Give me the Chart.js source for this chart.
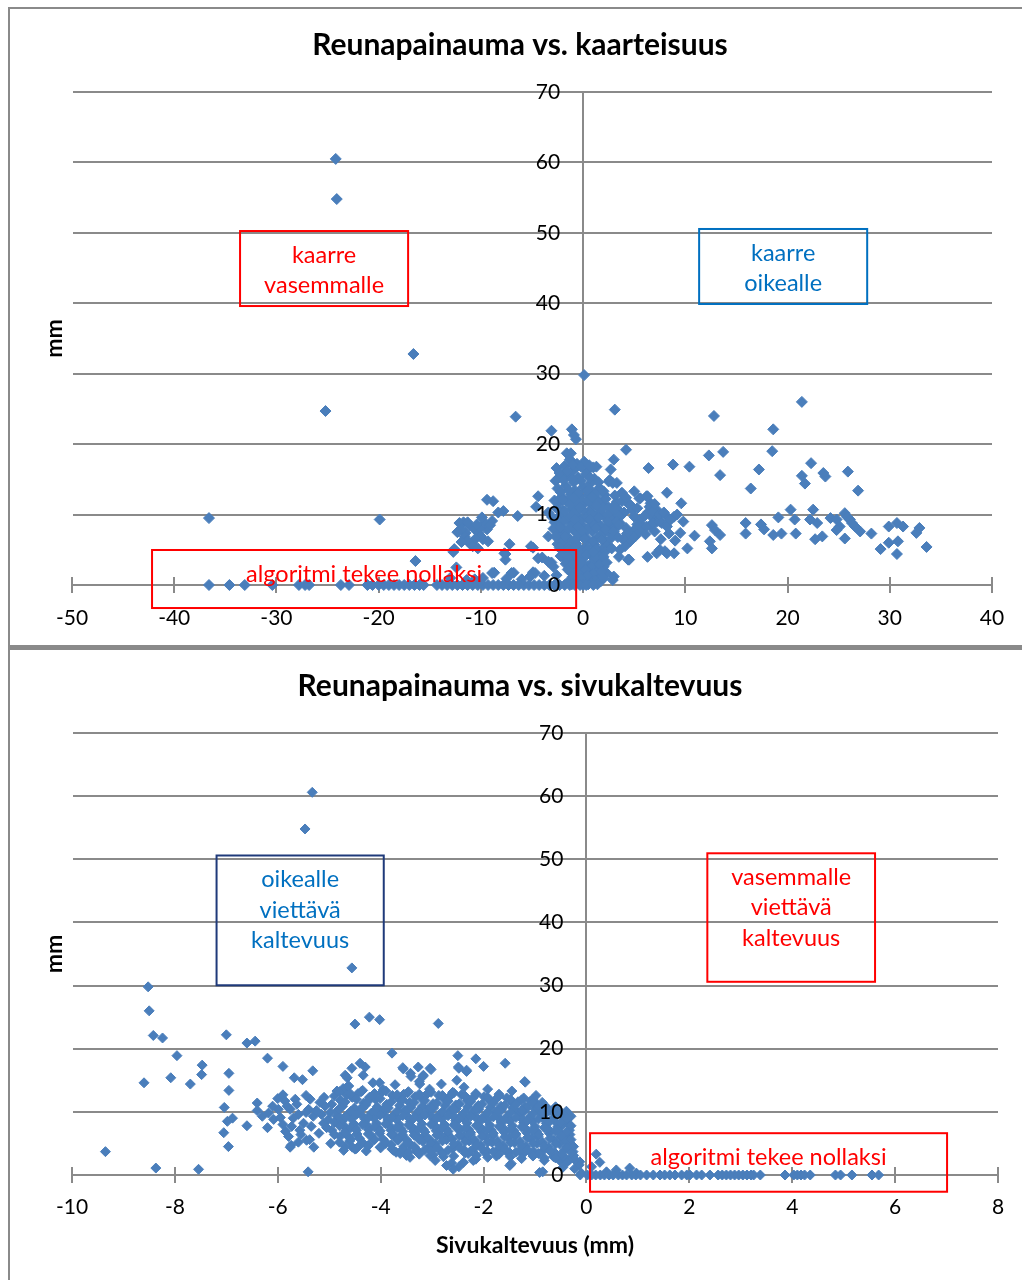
<!DOCTYPE html>
<html>
<head>
<meta charset="utf-8">
<script src="https://cdn.jsdelivr.net/npm/chart.js@4"></script>
<style>
html,body{margin:0;padding:0;background:#fff;}
body{width:1022px;height:1280px;position:relative;overflow:hidden;}
.panel{position:absolute;left:8px;width:1040px;border:2px solid #8a8a8a;box-sizing:border-box;}
#p1{top:7px;height:641px;border-bottom-width:3px;}
#p2{top:648px;height:700px;}
canvas{position:absolute;}
#c1{left:8px;top:8px;}
#c2{left:8px;top:650px;}
</style>
</head>
<body>
<div class="panel" id="p1"></div>
<div class="panel" id="p2"></div>
<canvas id="c1" width="1024" height="637"></canvas>
<canvas id="c2" width="1024" height="630"></canvas>
<script>
// ---------- DATA: chart 1 (x = kaarteisuus, y = reunapainauma mm) ----------
const kaarteisuusHajapisteet = [
  [-24.2,60.5],[-24.1,54.8],[-16.6,32.8],[0.1,29.8],[-25.2,24.7],[-6.6,23.9],[3.1,24.9],[12.8,24.0],[21.4,26.0],[18.6,22.1],
  [-36.6,9.5],[-19.9,9.3],[-16.4,3.4],[-3.1,21.9],[-1.1,22.1],[-0.9,21.3],[-0.7,20.7],
  [18.5,19.0],[13.7,18.9],[12.3,18.4],[4.2,19.2],[3.0,17.8],[2.7,16.4],[1.3,16.8],[6.4,16.6],[8.8,17.1],[10.4,16.8],
  [13.4,15.6],[17.2,16.4],[22.3,17.3],[21.4,15.5],[21.7,14.4],[23.5,15.9],[23.7,15.4],[25.9,16.1],[16.4,13.7],[26.9,13.4],
  [8.2,13.1],[9.6,11.6],[3.8,13.1],[4.5,11.4],[5.6,12.3],[6.3,12.6],[6.6,11.6],[7.2,10.7],
  [8.9,9.7],[9.8,9.0],[9.5,7.4],[10.9,7.0],[10.2,5.2],[7.6,6.5],[6.3,4.0],[7.2,4.5],[8.0,4.8],[8.9,4.5],[3.5,4.0],[4.5,3.6],[3.0,1.2],
  [12.6,8.5],[12.9,7.8],[13.4,7.1],[12.4,6.2],[12.6,5.2],[15.9,8.8],[15.9,7.3],[17.4,8.6],[17.7,7.9],[18.6,7.1],[19.4,7.3],
  [19.1,9.6],[20.3,10.7],[20.7,9.3],[20.8,7.3],[22.5,10.7],[22.2,9.3],[22.9,8.8],[22.7,6.5],[23.4,6.9],
  [24.2,9.5],[24.8,9.3],[25.1,8.3],[25.6,10.2],[25.8,9.7],[26.1,9.3],[26.3,8.8],[26.6,8.3],[25.6,6.6],[24.8,7.8],[27.1,7.6],
  [28.2,7.3],[29.1,5.1],[29.9,6.0],[29.9,8.3],[30.7,8.8],[30.8,6.2],[30.7,4.4],[31.3,8.3],[32.6,7.4],[32.9,8.1],[33.6,5.4],
  [5.0,9.7],[5.6,9.3],[6.4,10.4],[6.7,9.7],[7.2,9.0],[5.9,8.3],[5.0,7.8],[4.6,6.2],[5.1,6.9],[4.1,5.5],[6.6,8.3],[7.7,8.8],
  [3.6,9.7],[3.6,8.8],[4.2,8.1],[4.9,6.9],[5.5,7.6],[6.2,8.3],[6.8,8.8],[7.5,9.0],[8.2,8.3],[7.5,5.0],[8.2,4.5],[4.4,3.6],
  [3.6,5.0],[2.3,1.7],[2.9,0.7],[2.5,14.7],[3.3,14.5],[2.6,14.9],[2.9,14.5],[2.1,12.8],[3.75,13.0],[1.0,16.7],[-1.2,18.7],
  [4.6,11.4],[6.5,11.1],[6.8,10.4],[7.5,10.0],[8.2,9.7],[5.5,12.3],[6.2,12.6],
  [4.0,10.3],[4.8,10.6],[5.3,10.9],[6.0,9.8],[7.0,11.5],[7.9,10.3],[8.5,9.2],[9.2,10.0],[5.3,8.6],[6.1,7.2],[7.0,7.6],
  [8.4,7.3],[9.0,6.3],[4.3,7.3],[3.9,6.5],[3.4,6.8],[3.8,11.9],[4.2,12.4],[5.0,13.3],[3.3,11.8],[3.1,12.7],[3.0,11.2],[3.5,10.6],
  [-9.4,12.1],[-8.8,11.9],[-7.8,10.5],[-6.4,9.8],[-4.4,12.6],[-4.6,11.1],[-3.4,10.3],[-3.0,9.6],[-4.9,5.3],
  [-11.7,8.9],[-11.1,8.4],[-10.6,7.9],[-11.5,7.4],[-10.9,6.0],[-10.2,7.4],[-9.4,7.9],[-8.9,9.1],[-9.8,6.5],[-9.3,6.2],
  [-12.1,8.8],[-11.6,6.9],[-10.1,8.1],[-9.6,8.8],[-11.1,5.9],[-10.8,5.5],[-12.7,4.7],[-12.6,5.1],[-7.6,4.4],[-7.6,3.6],
  [-7.7,4.5],[-8.7,1.75],[-6.8,1.75],[-4.9,1.8],[-4.0,3.9],[-3.1,3.2],[-3.4,6.9],[-2.1,5.8],[-4.4,3.8],[-3.4,3.3],
  [-2.9,2.6],[-5.1,5.5],[-4.7,1.7],[-12.4,2.5],[-10.6,0.8],[-8.9,1.7],[-7.0,1.7],[-2.6,16.6],[-2.3,15.9],[-2.4,15.2],
  [-1.6,18.7],[-1.1,17.5],[-0.65,16.8],
  [-11.9,7.9],[-11.3,8.9],[-10.4,8.6],[-10.0,6.9],[-9.9,9.6],[-10.5,6.6],[-11.3,6.3],[-9.1,8.5],[-11.9,6.1],[-12.3,7.5],
  [-10.3,5.2],[-8.3,10.3],[-7.2,5.8],[-7.5,0.9],[-6.0,0.8],[-5.2,1.2],[-3.8,1.3],[-2.6,1.4],[-9.8,1.0],[-11.4,0.7],[-13.0,1.0]
];
const kaarteisuusKeskittyma = [
  [-1.3,17.8],[-0.6,17.2],[0.1,17.5],[-0.9,16.4],[0.4,16.2],[-1.8,16.9],
  [-2.2,15.4],[-1.4,15.6],[-0.5,15.3],[0.3,15.8],[1.1,15.1],[-0.9,14.6],[0.7,14.4],
  [-2.5,13.7],[-1.7,14.1],[-0.8,13.4],[0.0,13.9],[0.9,13.2],[1.6,13.8],[-1.2,12.9],[-0.3,12.6],[0.5,12.8],[1.3,12.3],[-2.1,12.5],
  [-2.4,11.6],[-1.6,11.9],[-0.7,11.3],[0.2,11.7],[1.0,11.2],[1.9,11.5],[2.5,11.0],[-1.1,10.8],[0.6,10.5],[-2.0,10.6],[1.5,10.3],[2.8,10.4],
  [-2.3,9.8],[-1.5,9.4],[-0.6,9.9],[0.3,9.6],[1.2,9.2],[2.1,9.7],[2.9,9.3],[3.4,9.9],[-2.8,8.9],[-1.0,8.7],[-0.1,8.5],[0.8,8.9],[1.7,8.4],[2.5,8.6],[3.1,8.2],
  [-2.6,7.8],[-1.8,7.4],[-0.9,7.7],[0.0,7.2],[0.9,7.6],[1.8,7.1],[2.6,7.5],[-2.3,6.8],[-1.3,6.5],[-0.4,6.9],[0.5,6.4],[1.4,6.7],[2.2,6.2],
  [-2.5,5.8],[-1.6,5.5],[-0.7,5.9],[0.2,5.3],[1.1,5.7],[1.9,5.2],[2.4,5.6],[-2.0,4.8],[-1.1,4.5],[-0.2,4.7],[0.7,4.3],[1.5,4.6],
  [-1.8,3.7],[-0.9,3.4],[0.0,3.8],[0.9,3.2],[1.7,3.5],[-1.4,2.8],[-0.5,2.5],[0.4,2.7],[1.3,2.3],[2.0,2.6],
  [-1.2,1.8],[-0.3,1.5],[0.6,1.9],[1.4,1.3],[-0.8,0.8],[0.1,0.6],[0.9,0.9],[-1.5,0.4],[1.7,0.5],[-0.4,0.2],[0.5,0.1]
];
const kaarteisuusKeskittyma2 = [
  [-1.0,17.0],[-0.2,16.8],[0.6,17.0],[-1.6,16.2],[-2.7,14.8],
  [-1.9,14.9],[-1.1,15.1],[-0.2,14.8],[0.7,15.2],[1.5,14.6],
  [-2.2,13.2],[-1.4,13.5],[-0.5,13.1],[0.4,13.4],[1.2,13.0],[2.0,13.3],
  [-2.8,12.0],[-2.0,12.1],[-1.3,11.5],[-0.4,12.0],[0.5,11.9],[1.4,11.8],[2.2,12.2],[-0.9,12.3],[0.9,12.5],
  [-2.6,10.9],[-1.8,10.5],[-0.9,10.2],[0.0,10.6],[0.9,10.0],[1.8,10.8],[2.4,10.0],[3.1,10.8],[-0.3,11.0],[1.3,11.3],
  [-2.5,9.3],[-1.9,9.0],[-1.2,9.8],[-0.3,9.1],[0.6,9.3],[1.5,9.6],[2.4,9.0],[3.3,9.0],[-0.8,9.3],[1.0,8.4],
  [-2.9,8.0],[-2.2,8.2],[-1.4,8.1],[-0.5,8.2],[0.4,7.9],[1.3,8.1],[2.2,7.9],[3.0,7.6],[3.5,8.5],
  [-2.7,6.9],[-2.0,6.2],[-1.7,6.9],[-0.8,6.3],[0.1,6.6],[1.0,6.2],[1.8,6.5],[2.7,6.6],[-0.1,7.7],
  [-2.3,5.3],[-1.4,5.0],[-0.5,5.4],[0.4,5.0],[1.3,5.1],[2.2,4.8],[2.8,5.2],[-0.9,5.3],
  [-2.2,4.1],[-1.5,4.0],[-0.6,4.2],[0.3,4.3],[1.2,3.9],[2.0,4.0],[-0.4,3.4],[1.0,4.7],
  [-1.7,3.0],[-1.0,2.9],[-0.1,3.1],[0.8,2.6],[1.6,2.9],[2.3,3.2],
  [-1.5,2.2],[-0.7,1.6],[0.2,2.2],[1.0,1.6],[1.8,1.9],[-1.0,1.2],[0.4,1.3],[1.2,0.6],[-0.2,0.9],
  [-1.1,0.1],[0.0,0.0],[1.4,0.1],[2.0,1.0]
];
const kaarteisuusNollat = [
  [-36.6,0],[-34.6,0],[-33.1,0],[-30.4,0],[-27.8,0],[-27.2,0],[-26.8,0],[-23.7,0],[-22.9,0],[-21.1,0],[-20.6,0],[-20.0,0],
  [-19.5,0],[-19.0,0],[-18.5,0],[-18.0,0],[-17.5,0],[-17.0,0],[-16.5,0],[-16.0,0],[-15.6,0],[-14.3,0],[-13.8,0],[-13.3,0],
  [-12.8,0],[-12.3,0],[-11.8,0],[-11.3,0],[-10.8,0],[-10.3,0],[-9.8,0],[-9.3,0],[-8.8,0],[-8.3,0],[-7.8,0],[-7.3,0],[-6.8,0],
  [-6.3,0],[-5.8,0],[-5.3,0],[-4.8,0],[-4.3,0],[-3.8,0],[-3.3,0],[-2.8,0],[-2.3,0],[-1.8,0],[-1.3,0],[-0.8,0],[-0.3,0],[0.3,0],[1.0,0]
];

// ---------- DATA: chart 2 (x = sivukaltevuus mm, y = reunapainauma mm) ----------
const sivukaltevuusHajapisteet = [
  [-5.33,60.6],[-5.47,54.8],[-4.56,32.8],[-8.52,29.8],[-8.5,26.0],[-8.42,22.1],[-8.24,21.7],[-7.96,18.9],[-8.6,14.6],[-8.08,15.4],
  [-7.7,14.4],[-7.47,17.4],[-7.48,15.9],[-7.0,22.2],[-6.95,16.1],[-6.95,13.4],[-7.04,10.7],[-6.98,8.5],[-6.88,9.0],[-7.05,6.7],
  [-6.96,4.5],[-6.6,20.9],[-6.44,21.2],[-6.6,7.8],[-6.4,11.4],[-6.4,10.2],[-6.2,18.5],[-5.9,17.2],[-5.68,15.4],[-5.52,15.1],
  [-5.32,16.5],[-9.35,3.7],[-8.37,1.1],[-7.54,0.9],[-5.41,0.5],[-4.5,23.9],[-4.22,25.0],[-4.02,24.6],[-2.88,24.0],[-3.78,19.3],
  [-2.5,18.9],[-2.15,18.4],[-2.0,17.2],[-1.58,17.7],[-1.19,14.7],
  [-4.69,15.8],[-4.56,16.9],[-4.40,17.7],[-4.30,17.1],[-4.34,15.8],[-4.66,13.9],[-3.57,17.0],[-3.42,16.1],[-3.27,17.1],[-3.17,15.8],
  [-3.04,16.9],[-3.24,14.4],[-2.49,17.1],[-2.33,16.6],[-2.52,15.0],[-1.2,14.8],[-1.04,12.0],[-0.39,10.1],[-4.73,13.7],[-4.65,15.4],
  [-4.02,14.6],[-3.56,16.8],[-3.41,15.6],[-3.18,15.6],[-3.02,16.7],[-2.48,16.9],[-2.33,16.4],
  [-6.18,9.8],[-6.08,8.8],[-5.99,10.4],[-5.86,11.7],[-5.76,10.4],[-5.66,12.0],[-5.60,9.6],[-5.73,7.7],[-5.79,6.1],[-5.57,7.1],
  [-5.50,8.2],[-5.76,4.4],[-5.37,12.0],[-5.40,10.4],[-5.31,9.3],[-5.44,5.5],[-5.18,11.5],[-5.08,10.9],[-4.95,11.2],[-5.11,8.2],
  [-4.95,7.1],[-4.79,6.1],[-5.02,8.8],[-4.85,9.3],[-6.3,9.3],[-6.0,12.1],[-5.85,6.9],[-5.74,4.7],[-5.38,5.6],[-4.97,5.0],
  [-6.1,10.9],[-5.95,9.1],[-5.9,8.0],[-5.82,10.9],[-5.7,9.0],[-5.63,11.2],[-5.55,6.4],[-5.45,9.9],[-5.35,7.7],[-5.25,10.2],
  [-5.2,6.6],[-5.15,9.6],[-5.05,7.5],[-4.98,9.9],[-4.9,8.3],[-4.9,6.4],[-5.6,5.2],[-5.3,4.4],[-6.2,7.5],[-5.9,12.7],
  [-5.45,12.6],[-5.1,12.3],[-4.9,12.5],[-4.85,13.3]
];
const sivukaltevuusKeskittyma = [
  [-4.62,14.1],[-4.38,13.2],[-4.15,14.6],[-3.95,13.5],[-3.72,14.3],[-3.48,13.0],[-3.25,14.8],[-3.05,13.6],[-2.82,14.4],[-2.6,13.1],
  [-2.38,13.9],[-2.15,12.9],[-1.92,13.6],[-1.7,12.8],[-1.45,13.3],[-1.22,12.2],[-0.98,12.6],
  [-4.78,11.8],[-4.55,12.3],[-4.33,11.4],[-4.1,12.0],[-3.88,11.2],[-3.66,12.2],[-3.44,11.5],[-3.2,12.1],[-2.98,11.3],[-2.76,12.0],
  [-2.54,11.1],[-2.32,11.8],[-2.1,11.0],[-1.88,11.7],[-1.66,10.9],[-1.44,11.5],[-1.2,10.8],[-0.96,11.2],[-0.74,10.4],
  [-4.85,10.1],[-4.63,9.6],[-4.4,10.4],[-4.18,9.8],[-3.96,10.3],[-3.74,9.5],[-3.52,10.2],[-3.3,9.7],[-3.08,10.5],[-2.86,9.6],
  [-2.64,10.2],[-2.42,9.5],[-2.2,10.1],[-1.98,9.4],[-1.76,10.0],[-1.54,9.3],[-1.32,9.9],[-1.1,9.2],[-0.88,9.7],[-0.64,9.0],[-0.42,9.4],
  [-4.74,8.6],[-4.52,8.1],[-4.3,8.8],[-4.08,8.2],[-3.86,8.7],[-3.64,8.0],[-3.42,8.5],[-3.2,8.1],[-2.98,8.9],[-2.76,8.0],
  [-2.54,8.6],[-2.32,8.2],[-2.1,8.7],[-1.88,7.9],[-1.66,8.4],[-1.44,7.8],[-1.22,8.3],[-1.0,7.7],[-0.78,8.2],[-0.56,7.6],[-0.36,8.1],
  [-4.68,7.0],[-4.46,6.5],[-4.24,7.2],[-4.02,6.6],[-3.8,7.1],[-3.58,6.4],[-3.36,6.9],[-3.14,6.3],[-2.92,7.0],[-2.7,6.5],
  [-2.48,7.1],[-2.26,6.4],[-2.04,6.9],[-1.82,6.3],[-1.6,6.8],[-1.38,6.2],[-1.16,6.7],[-0.94,6.1],[-0.72,6.6],[-0.5,6.0],[-0.32,6.4],
  [-4.6,5.4],[-4.38,4.9],[-4.14,5.6],[-3.9,5.0],[-3.66,5.5],[-3.42,4.8],[-3.18,5.3],[-2.94,4.9],[-2.72,5.6],[-2.5,4.8],
  [-2.28,5.4],[-2.06,4.7],[-1.84,5.2],[-1.62,4.6],[-1.4,5.1],[-1.18,4.5],[-0.96,5.0],[-0.74,4.4],[-0.52,4.9],[-0.36,4.3],
  [-4.72,3.9],[-4.5,4.1],[-4.28,3.8],[-3.7,3.6],[-3.5,3.1],[-3.3,3.7],[-2.98,3.2],[-2.78,2.9],[-2.62,1.9],[-2.48,1.3],
  [-2.3,3.4],[-2.15,2.5],[-1.98,3.6],[-1.75,3.0],[-1.56,3.8],[-1.46,1.8],[-1.24,3.3],[-1.02,3.7],[-0.82,2.7],[-0.6,3.4],
  [-0.4,2.6],[-0.2,2.2],[-3.75,3.9],[-3.62,3.4],[-3.43,2.8],[-3.04,3.1],[-2.94,2.3],[-2.72,1.5],[-2.59,0.9],[-2.39,2.0],
  [-2.2,2.3],[-1.49,1.5],[-0.91,0.4],[-0.52,2.3],[-0.46,1.2],
  [-0.42,8.8],[-0.49,7.7],[-0.39,6.1],[-0.32,4.5],[-0.26,3.7],[-0.45,2.9],[-0.13,2.1],[-0.23,1.0],[-0.33,2.4],[-0.1,0.3],
  [-0.64,2.9],[-0.85,0.5],[-0.25,4.5],[-0.14,1.6],[0.19,3.3],[0.26,2.0],[0.1,1.3],[0.39,0.5],[0.58,0.8],[0.84,1.1],[0.97,0.3]
];
const sivukaltevuusKeskittyma2 = [
  [-4.67,12.7],[-4.44,12.9],[-4.22,12.3],[-3.99,13.0],[-3.77,12.6],[-3.55,12.8],[-3.33,12.4],[-3.09,12.9],[-2.87,12.6],[-2.65,12.5],
  [-2.43,12.7],[-2.21,12.2],[-1.99,12.4],[-1.77,11.9],[-1.55,12.2],[-1.33,11.6],[-1.09,11.7],[-0.86,11.5],
  [-4.74,10.9],[-4.51,10.6],[-4.29,11.1],[-4.07,10.8],[-3.85,10.6],[-3.63,11.0],[-3.41,10.7],[-3.19,10.9],[-2.97,10.6],[-2.75,11.0],
  [-2.53,10.5],[-2.31,10.8],[-2.09,10.4],[-1.87,10.7],[-1.65,10.3],[-1.43,10.6],[-1.21,10.1],[-0.99,10.4],[-0.77,9.9],[-0.53,9.8],
  [-4.8,9.2],[-4.57,8.9],[-4.35,9.3],[-4.13,9.0],[-3.91,9.4],[-3.69,8.8],[-3.47,9.2],[-3.25,9.0],[-3.03,9.5],[-2.81,8.9],
  [-2.59,9.3],[-2.37,8.8],[-2.15,9.2],[-1.93,8.7],[-1.71,9.1],[-1.49,8.6],[-1.27,9.0],[-1.05,8.5],[-0.83,8.9],[-0.6,8.4],[-0.38,8.7],
  [-4.7,7.7],[-4.49,7.4],[-4.27,7.9],[-4.05,7.5],[-3.83,7.8],[-3.61,7.3],[-3.39,7.6],[-3.17,7.2],[-2.95,7.8],[-2.73,7.3],
  [-2.51,7.7],[-2.29,7.2],[-2.07,7.6],[-1.85,7.1],[-1.63,7.5],[-1.41,7.0],[-1.19,7.4],[-0.97,6.9],[-0.75,7.3],[-0.53,6.8],[-0.33,7.1],
  [-4.63,6.1],[-4.41,5.8],[-4.19,6.3],[-3.96,5.7],[-3.73,6.2],[-3.5,5.6],[-3.27,6.0],[-3.05,5.6],[-2.83,6.2],[-2.61,5.7],
  [-2.39,6.1],[-2.17,5.5],[-1.95,6.0],[-1.73,5.4],[-1.51,5.9],[-1.29,5.3],[-1.07,5.8],[-0.85,5.2],[-0.63,5.6],[-0.41,5.4],
  [-4.55,4.4],[-4.25,4.6],[-4.0,4.3],[-3.78,4.1],[-3.55,4.5],[-3.3,4.0],[-3.07,4.4],[-2.85,3.9],[-2.6,4.2],[-2.38,4.0],
  [-2.17,4.3],[-1.93,3.8],[-1.7,4.1],[-1.5,3.6],[-1.28,4.0],[-1.07,3.5],[-0.85,3.8],[-0.63,3.6],[-0.43,3.9],[-0.25,3.1]
];
const sivukaltevuusKeskittyma3 = [
  [-4.8,13.2],[-4.58,12.8],[-4.35,13.4],[-4.12,12.9],[-3.9,13.3],[-3.68,12.7],[-3.46,13.2],[-3.25,12.8],[-3.02,13.1],[-2.8,12.6],
  [-2.58,13.0],[-2.36,12.5],[-2.14,12.8],[-1.92,12.3],[-1.7,12.5],[-1.48,12.0],[-1.26,11.9],[-1.04,11.4],[-0.82,11.1],[-0.6,10.8],
  [-4.69,11.6],[-4.47,12.0],[-4.24,11.7],[-4.01,12.1],[-3.79,11.6],[-3.57,11.9],[-3.35,11.5],[-3.14,11.8],[-2.91,11.4],[-2.69,11.7],
  [-2.47,11.3],[-2.25,11.6],[-2.03,11.2],[-1.81,11.4],[-1.59,11.0],[-1.37,11.2],[-1.15,10.7],[-0.93,10.9],[-0.71,10.2],[-0.49,9.9],[-0.3,9.3],
  [-4.8,10.5],[-4.58,10.1],[-4.35,10.6],[-4.12,10.2],[-3.9,10.7],[-3.68,10.1],[-3.46,10.5],[-3.25,10.2],[-3.02,10.6],[-2.8,10.0],
  [-2.58,10.4],[-2.36,10.0],[-2.14,10.5],[-1.92,9.9],[-1.7,10.3],[-1.48,9.8],[-1.26,10.2],[-1.04,9.7],[-0.82,10.0],[-0.6,9.5],[-0.38,9.0],
  [-4.69,9.2],[-4.47,9.6],[-4.24,9.1],[-4.01,9.5],[-3.79,9.0],[-3.57,9.4],[-3.35,9.1],[-3.14,9.5],[-2.91,9.0],[-2.69,9.4],
  [-2.47,8.9],[-2.25,9.3],[-2.03,8.8],[-1.81,9.2],[-1.59,8.7],[-1.37,9.1],[-1.15,8.6],[-0.93,8.9],[-0.71,8.5],[-0.49,8.3],[-0.3,7.8],
  [-4.8,7.8],[-4.58,7.5],[-4.35,8.0],[-4.12,7.6],[-3.9,8.1],[-3.68,7.5],[-3.46,7.9],[-3.25,7.4],[-3.02,8.0],[-2.8,7.5],
  [-2.58,7.9],[-2.36,7.4],[-2.14,7.8],[-1.92,7.3],[-1.7,7.7],[-1.48,7.2],[-1.26,7.6],[-1.04,7.1],[-0.82,7.5],[-0.6,7.0],[-0.38,6.8],
  [-4.69,6.7],[-4.47,7.1],[-4.24,6.5],[-4.01,7.0],[-3.79,6.4],[-3.57,6.9],[-3.35,6.3],[-3.14,6.8],[-2.91,6.3],[-2.69,6.9],
  [-2.47,6.2],[-2.25,6.7],[-2.03,6.1],[-1.81,6.6],[-1.59,6.0],[-1.37,6.5],[-1.15,5.9],[-0.93,6.4],[-0.71,5.8],[-0.49,6.2],[-0.3,5.6],
  [-4.8,5.2],[-4.58,5.7],[-4.35,5.1],[-4.12,5.6],[-3.9,5.2],[-3.68,5.7],[-3.46,5.1],[-3.25,5.6],[-3.02,5.0],[-2.8,5.4],
  [-2.58,4.9],[-2.36,5.3],[-2.14,4.8],[-1.92,5.2],[-1.7,4.7],[-1.48,5.1],[-1.26,4.6],[-1.04,5.0],[-0.82,4.5],[-0.6,4.9],[-0.38,4.4],
  [-4.69,4.5],[-4.47,4.2],[-4.24,4.7],[-4.01,4.4],[-3.79,4.8],[-3.57,4.1],[-3.35,4.5],[-3.14,4.0],[-2.91,4.4],[-2.69,3.9],
  [-2.47,4.3],[-2.25,3.8],[-2.03,4.2],[-1.81,3.7],[-1.59,4.1],[-1.37,3.6],[-1.15,4.0],[-0.93,3.4],[-0.71,3.8],[-0.49,3.3],[-0.3,3.6],
  [-3.46,3.6],[-3.25,3.3],[-3.02,3.8],[-2.8,3.4],[-2.58,3.0],[-2.36,3.5],[-2.14,3.1],[-1.92,2.8],[-1.7,3.3],[-1.48,2.9],
  [-1.26,2.6],[-1.04,3.0],[-0.82,2.3],[-0.6,2.7],[-0.38,2.0]
];
const sivukaltevuusNollat = [
  [-0.12,0],[0.02,0],[0.1,0],[0.18,0],[0.27,0],[0.35,0],[0.44,0],[0.52,0],[0.62,0],[0.7,0],[0.78,0],[0.88,0],[0.96,0],[1.05,0],
  [1.17,0],[1.3,0],[1.43,0],[1.52,0],[1.62,0],[1.72,0],[1.85,0],[1.95,0],[2.01,0],[2.14,0],[2.24,0],[2.4,0],[2.56,0],[2.64,0],
  [2.72,0],[2.8,0],[2.88,0],[2.96,0],[3.04,0],[3.12,0],[3.2,0],[3.25,0],[3.38,0],[3.86,0],[4.03,0],[4.1,0],[4.17,0],[4.24,0],
  [4.35,0],[4.84,0],[4.94,0],[5.16,0],[5.55,0],[5.68,0]
];

// axis ranges / ticks
const xRange1 = [-50, 40], xStep1 = 10;
const xRange2 = [-10, 8], xStep2 = 2;
const yRange = [0, 70], yStep = 10;

// ---------- STYLE ----------
const GRID = '#8a8a8a';
const BLUE = '#4a7ebb';
const FONT = 'Lato';

const toPts = (...arrs) => arrs.flat().map(([x, y]) => ({x, y}));

const shiftY = {
  id: 'shiftY',
  afterLayout(chart) {
    const ys = chart.scales.y;
    const px = chart.scales.x.getPixelForValue(0);
    ys.left = px - 120; ys.right = px; ys.width = 120;
  }
};
const crossTicks = {
  id: 'crossTicks',
  beforeDatasetsDraw(chart) {
    const {ctx} = chart;
    const xs = chart.scales.x;
    const y0 = chart.scales.y.getPixelForValue(0);
    ctx.save();
    ctx.strokeStyle = GRID; ctx.lineWidth = 2;
    xs.ticks.forEach(t => {
      const px = Math.round(xs.getPixelForValue(t.value));
      ctx.beginPath(); ctx.moveTo(px, y0 - 8); ctx.lineTo(px, y0 + 8); ctx.stroke();
    });
    ctx.restore();
  }
};
const noteBoxes = {
  id: 'noteBoxes',
  afterDatasetsDraw(chart, args, opts) {
    const {ctx} = chart;
    const xs = chart.scales.x, ys = chart.scales.y;
    (opts.boxes || []).forEach(b => {
      const l = xs.getPixelForValue(b.x1), r = xs.getPixelForValue(b.x2);
      const t = ys.getPixelForValue(b.yTop), bt = ys.getPixelForValue(b.yBottom);
      ctx.save();
      ctx.strokeStyle = b.border; ctx.lineWidth = 2;
      ctx.strokeRect(l, t, r - l, bt - t);
      ctx.fillStyle = b.color;
      ctx.font = '23.5px ' + FONT;
      ctx.textAlign = 'center'; ctx.textBaseline = 'middle';
      b.lines.forEach((s, i) => ctx.fillText(s, (l + r) / 2, t + 24 + i * 30.5));
      ctx.restore();
    });
  }
};

function build(id, cfg) {
  return new Chart(document.getElementById(id), {
    type: 'scatter',
    data: {
      datasets: [{
        data: cfg.points,
        pointStyle: 'rectRot',
        pointRadius: cfg.radius,
        pointHoverRadius: cfg.radius,
        backgroundColor: BLUE,
        borderColor: BLUE,
        borderWidth: 1,
        clip: false
      }]
    },
    options: {
      responsive: false,
      animation: false,
      events: [],
      layout: {padding: 0},
      plugins: {
        legend: {display: false},
        tooltip: {enabled: false},
        title: {
          display: true, text: cfg.title, color: '#000',
          font: {family: FONT, size: 30, weight: 'bold', lineHeight: 1.2},
          padding: {top: cfg.titleTop, bottom: cfg.titleBottom}
        },
        noteBoxes: {boxes: cfg.boxes}
      },
      scales: {
        x: {
          type: 'linear', position: 'bottom', min: cfg.xRange[0], max: cfg.xRange[1],
          ticks: {stepSize: cfg.xStep, padding: cfg.xPad, color: '#000', font: {family: FONT, size: 21}, maxRotation: 0, autoSkip: false},
          grid: {display: false, drawTicks: false},
          border: {display: true, color: GRID, width: 2},
          title: cfg.xTitle ? {display: true, text: cfg.xTitle, color: '#000', font: {family: FONT, size: 23, weight: 'bold', lineHeight: 1.2}, padding: {top: 0, bottom: 21}} : {display: false},
          afterFit(s) { s.height = cfg.xHeight; }
        },
        y: {
          type: 'linear', position: 'left', min: yRange[0], max: yRange[1],
          ticks: {stepSize: yStep, padding: 23, color: '#000', font: {family: FONT, size: 21}, z: 1},
          grid: {color: GRID, lineWidth: 2, drawTicks: false},
          border: {display: true, color: GRID, width: 2},
          afterFit(s) { s.width = 0; }
        },
        yTitle: {
          type: 'linear', position: 'left', min: 0, max: 1,
          ticks: {display: false}, grid: {display: false, drawTicks: false}, border: {display: false},
          title: {display: true, text: 'mm', color: '#000', font: {family: FONT, size: 23, weight: 'bold', lineHeight: 1.2}, padding: {top: 33, bottom: 0}},
          afterFit(s) { s.width = 64; }
        },
        yPad: {
          type: 'linear', position: 'right', min: 0, max: 1,
          ticks: {display: false}, grid: {display: false, drawTicks: false}, border: {display: false},
          afterFit(s) { s.width = cfg.rightPad; }
        }
      }
    },
    plugins: [shiftY, crossTicks, noteBoxes]
  });
}

function drawAll() {
  Chart.defaults.font.family = FONT;
  build('c1', {
    title: 'Reunapainauma vs. kaarteisuus',
    points: toPts(kaarteisuusHajapisteet, kaarteisuusKeskittyma, kaarteisuusKeskittyma2, kaarteisuusNollat),
    radius: 5.5, xRange: xRange1, xStep: xStep1,
    titleTop: 19, titleBottom: 29, xPad: 21, xHeight: 60, rightPad: 40, xTitle: null,
    boxes: [
      {x1: -33.56, x2: -17.12, yTop: 50.26, yBottom: 39.61, border: '#ff0000', color: '#ff0000', lines: ['kaarre', 'vasemmalle']},
      {x1: 11.35, x2: 27.79, yTop: 50.55, yBottom: 39.9, border: '#0070c0', color: '#0070c0', lines: ['kaarre', 'oikealle']},
      {x1: -42.17, x2: -0.68, yTop: 4.97, yBottom: -3.27, border: '#ff0000', color: '#ff0000', lines: ['algoritmi tekee nollaksi']}
    ]
  });
  build('c2', {
    title: 'Reunapainauma vs. sivukaltevuus',
    points: toPts(sivukaltevuusHajapisteet, sivukaltevuusKeskittyma, sivukaltevuusKeskittyma2, sivukaltevuusKeskittyma3, sivukaltevuusNollat),
    radius: 5, xRange: xRange2, xStep: xStep2,
    titleTop: 18, titleBottom: 29, xPad: 20, xHeight: 105, rightPad: 34, xTitle: 'Sivukaltevuus (mm)',
    boxes: [
      {x1: -7.19, x2: -3.94, yTop: 50.6, yBottom: 30.05, border: '#1f3a7a', color: '#0070c0', lines: ['oikealle', 'viettävä', 'kaltevuus']},
      {x1: 2.35, x2: 5.61, yTop: 50.95, yBottom: 30.6, border: '#ff0000', color: '#ff0000', lines: ['vasemmalle', 'viettävä', 'kaltevuus']},
      {x1: 0.07, x2: 7.01, yTop: 6.62, yBottom: -2.65, border: '#ff0000', color: '#ff0000', lines: ['algoritmi tekee nollaksi']}
    ]
  });
}
Promise.all([
  document.fonts.load('20px Lato'),
  document.fonts.load('bold 27px Lato')
]).then(drawAll, drawAll);
</script>
</body>
</html>
